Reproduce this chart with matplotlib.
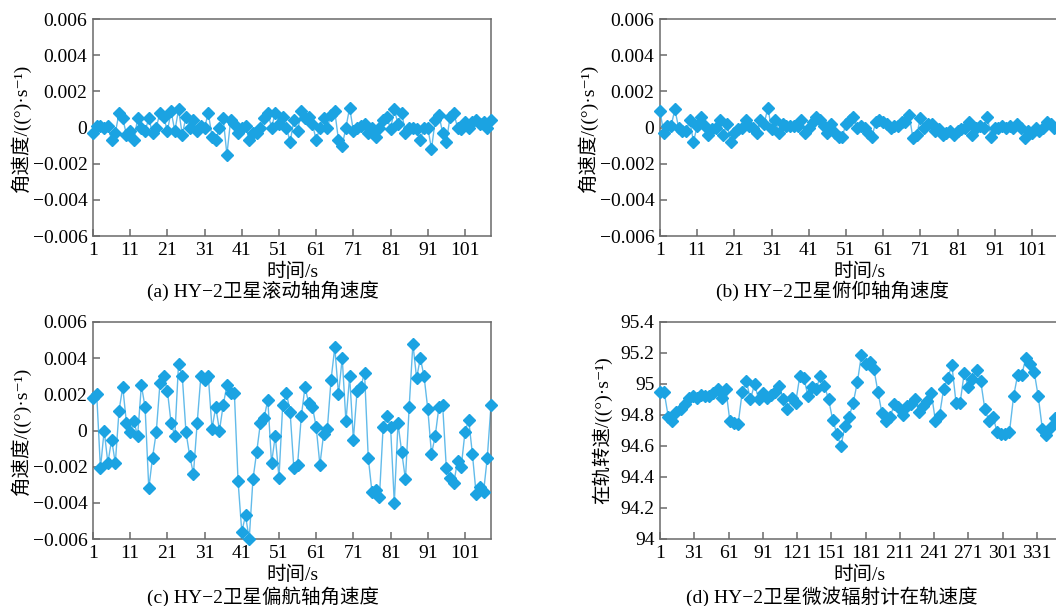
import numpy as np
import matplotlib
matplotlib.use("Agg")
import matplotlib.pyplot as plt

plt.rcParams["font.family"] = ["Liberation Serif", "Noto Sans CJK SC", "DejaVu Sans"]
plt.rcParams["font.size"] = 14

# ---- data ----
roll_rate = [
    -0.0003, 0.0001, 0.0001, 0.0, 0.0001, -0.0007, -0.0003, 0.0008, 0.0005, -0.0004,
    -0.0002, -0.0007, 0.0005, 0.0, -0.0002, 0.0005, -0.0003, 0.0, 0.0008, 0.0006,
    -0.0002, 0.0009, -0.0002, 0.001, -0.0004, 0.0006, 0.0, 0.0004, -0.0002, 0.0001,
    0.0, 0.0008, -0.0005, -0.0007, 0.0, 0.0005, -0.0015, 0.0004, 0.0002, -0.0003,
    0.0, 0.0001, -0.0007, -0.0003, -0.0003, 0.0, 0.0005, 0.0008, 0.0, 0.0008,
    0.0002, 0.0006, 0.0, -0.0008, 0.0004, -0.0002, 0.0009, 0.0005, 0.0006, 0.0002,
    -0.0007, 0.0, 0.0005, 0.0, 0.0007, 0.0009, -0.0007, -0.001, 0.0, 0.0011,
    -0.0002, 0.0, 0.0001, 0.0002, -0.0003, 0.0, -0.0005, 0.0, 0.0004, 0.0006,
    -0.0001, 0.001, 0.0002, 0.0008, -0.0003, 0.0, 0.0, -0.0001, -0.0007, 0.0,
    0.0, -0.0012, 0.0004, 0.0007, -0.0003, -0.0008, 0.0006, 0.0008, 0.0, -0.0001,
    0.0003, 0.0, 0.0003, 0.0004, 0.0002, 0.0003, 0.0, 0.0004,
]

pitch_rate = [
    0.0009, -0.0003, 0.0001, 0.0001, 0.001, 0.0, -0.0002, -0.0002, 0.0004, -0.0008,
    0.0001, 0.0006, 0.0001, -0.0004, -0.0001, 0.0, 0.0004, -0.0004, 0.0002, -0.0008,
    -0.0003, -0.0001, 0.0, 0.0004, 0.0001, 0.0, -0.0003, 0.0004, 0.0002, 0.0011,
    -0.0001, 0.0004, -0.0003, 0.0002, 0.0001, 0.0001, 0.0001, 0.0001, 0.0004, -0.0003,
    0.0, 0.0003, 0.0006, 0.0004, 0.0001, -0.0003, 0.0002, -0.0003, -0.0005, -0.0005,
    0.0002, 0.0004, 0.0006, 0.0, 0.0001, 0.0, -0.0003, -0.0005, 0.0003, 0.0004,
    0.0003, 0.0002, 0.0, 0.0001, 0.0001, 0.0003, 0.0003, 0.0007, -0.0006, -0.0004,
    0.0005, 0.0, 0.0002, 0.0002, -0.0002, -0.0001, -0.0004, -0.0003, -0.0002, -0.0004,
    -0.0002, -0.0001, 0.0, 0.0003, -0.0004, 0.0, 0.0001, 0.0, 0.0006, -0.0005,
    0.0, 0.0, 0.0001, 0.0, 0.0001, 0.0, 0.0002, 0.0, -0.0006, -0.0002,
    -0.0003, 0.0, -0.0002, 0.0, 0.0003, 0.0002, 0.0, 0.0001,
]

yaw_rate = [
    0.0018, 0.002, -0.0021, 0.0, -0.0018, -0.0005, -0.0018, 0.0011, 0.0024, 0.0004,
    -0.0001, 0.0005, -0.0003, 0.0025, 0.0013, -0.0032, -0.0015, -0.0001, 0.0026, 0.003,
    0.0022, 0.0004, -0.0003, 0.0037, 0.003, -0.0001, -0.0014, -0.0024, 0.0004, 0.003,
    0.0028, 0.003, 0.0001, 0.0013, 0.0, 0.0014, 0.0025, 0.0021, 0.0021, -0.0028,
    -0.0056, -0.0047, -0.006, -0.0027, -0.0012, 0.0004, 0.0007, 0.0017, -0.0018, -0.0003,
    -0.0026, 0.0014, 0.0021, 0.001, -0.0021, -0.0019, 0.0008, 0.0024, 0.0015, 0.0013,
    0.0002, -0.0019, -0.0002, 0.0001, 0.0028, 0.0046, 0.002, 0.004, 0.0005, 0.003,
    -0.0005, 0.0022, 0.0024, 0.0032, -0.0015, -0.0034, -0.0033, -0.0037, 0.0002, 0.0008,
    0.0002, -0.004, 0.0004, -0.0012, -0.0027, 0.0013, 0.0048, 0.0029, 0.004, 0.003,
    0.0012, -0.0013, -0.0003, 0.0013, 0.0014, -0.0021, -0.0026, -0.0029, -0.0017, -0.002,
    -0.0001, 0.0006, -0.0013, -0.0035, -0.0031, -0.0034, -0.0015, 0.0014,
]

orbit_speed = [
    94.95, 94.95, 94.79, 94.76, 94.82, 94.84, 94.87, 94.91, 94.92, 94.91,
    94.93, 94.92, 94.92, 94.94, 94.97, 94.91, 94.97, 94.76, 94.75, 94.74,
    94.95, 95.02, 94.90, 95.00, 94.90, 94.94, 94.91, 94.93, 94.95, 94.99,
    94.90, 94.84, 94.91, 94.88, 95.05, 95.04, 94.92, 94.98, 94.97, 95.05,
    94.99, 94.90, 94.77, 94.68, 94.60, 94.73, 94.79, 94.88, 95.01, 95.19,
    95.13, 95.14, 95.10, 94.95, 94.81, 94.76, 94.79, 94.87, 94.85, 94.80,
    94.86, 94.87, 94.90, 94.82, 94.86, 94.89, 94.94, 94.76, 94.80, 94.97,
    95.04, 95.12, 94.88, 94.88, 95.07, 94.98, 95.03, 95.09, 95.02, 94.84,
    94.76, 94.79, 94.69, 94.68, 94.68, 94.69, 94.92, 95.06, 95.06, 95.17,
    95.13, 95.08, 94.92, 94.71, 94.67, 94.72, 94.78, 94.80,
]

t_rate = np.arange(1, len(roll_rate) + 1)
t_speed = 1 + 3.6 * np.arange(len(orbit_speed))

rate_ticks = [-0.006, -0.004, -0.002, 0, 0.002, 0.004, 0.006]
rate_labels = ["\u22120.006", "\u22120.004", "\u22120.002", "0", "0.002", "0.004", "0.006"]
speed_ticks = [94, 94.2, 94.4, 94.6, 94.8, 95, 95.2, 95.4]
speed_labels = ["94", "94.2", "94.4", "94.6", "94.8", "95", "95.2", "95.4"]
rate_xticks = list(range(1, 102, 10))
speed_xticks = list(range(1, 332, 30))

rate_ylabel = "角速度/((°)·s⁻¹)"
speed_ylabel = "在轨转速/((°)·s⁻¹)"
captions = [
    "(a) HY\u22122卫星滚动轴角速度",
    "(b) HY\u22122卫星俯仰轴角速度",
    "(c) HY\u22122卫星偏航轴角速度",
    "(d) HY\u22122卫星微波辐射计在轨速度",
]

LINE_C = "#62bbea"
MARK_C = "#1ba3e2"
SPINE_C = "#6a6a6a"

W, H = 1056, 606
fig = plt.figure(figsize=(W / 100, H / 100), dpi=100)


def box(left, top, right, bottom):
    return [left / W, 1 - bottom / H, (right - left) / W, (bottom - top) / H]


def style(ax, xticks, xlim, yticks, ylabels, ylim, ylabel, pad):
    ax.set_xlim(*xlim)
    ax.set_ylim(*ylim)
    ax.set_xticks(xticks)
    ax.set_xticklabels([str(v) for v in xticks])
    ax.set_yticks(yticks)
    ax.set_yticklabels(ylabels)
    ax.tick_params(direction="in", length=5, width=1.1, color=SPINE_C,
                   pad=4, labelsize=14, top=False, right=False)
    for s in ax.spines.values():
        s.set_color(SPINE_C)
        s.set_linewidth(1.1)
    ax.set_xlabel("时间/s", fontsize=14, labelpad=3)
    ax.set_ylabel(ylabel, fontsize=14, labelpad=pad)


panels = [
    (box(93, 19, 491, 236), t_rate, roll_rate, rate_xticks, (1, 108),
     rate_ticks, rate_labels, (-0.006, 0.006), rate_ylabel, 1),
    (box(660, 19, 1058, 236), t_rate, pitch_rate, rate_xticks, (1, 108),
     rate_ticks, rate_labels, (-0.006, 0.006), rate_ylabel, 1),
    (box(93, 322, 491, 539), t_rate, yaw_rate, rate_xticks, (1, 108),
     rate_ticks, rate_labels, (-0.006, 0.006), rate_ylabel, 1),
    (box(660, 322, 1058, 539), t_speed, orbit_speed, speed_xticks, (1, 349.5),
     speed_ticks, speed_labels, (94, 95.4), speed_ylabel, 6),
]

for pos, x, y, xt, xl, yt, yl, ylim, ylab, pad in panels:
    ax = fig.add_axes(pos)
    ax.plot(x, y, color=LINE_C, lw=1.0, zorder=2, clip_on=False)
    ax.plot(x, y, ls="none", marker="D", ms=6, color=MARK_C,
            mec=MARK_C, zorder=3, clip_on=False)
    style(ax, xt, xl, yt, yl, ylim, ylab, pad)

# captions under each panel
fig.text(263 / W, 1 - 291 / H, captions[0], ha="center", va="center", fontsize=14)
fig.text(832 / W, 1 - 291 / H, captions[1], ha="center", va="center", fontsize=14)
fig.text(263 / W, 1 - 597 / H, captions[2], ha="center", va="center", fontsize=14)
fig.text(832 / W, 1 - 597 / H, captions[3], ha="center", va="center", fontsize=14)

fig.savefig("out.png", dpi=100, facecolor="white")
